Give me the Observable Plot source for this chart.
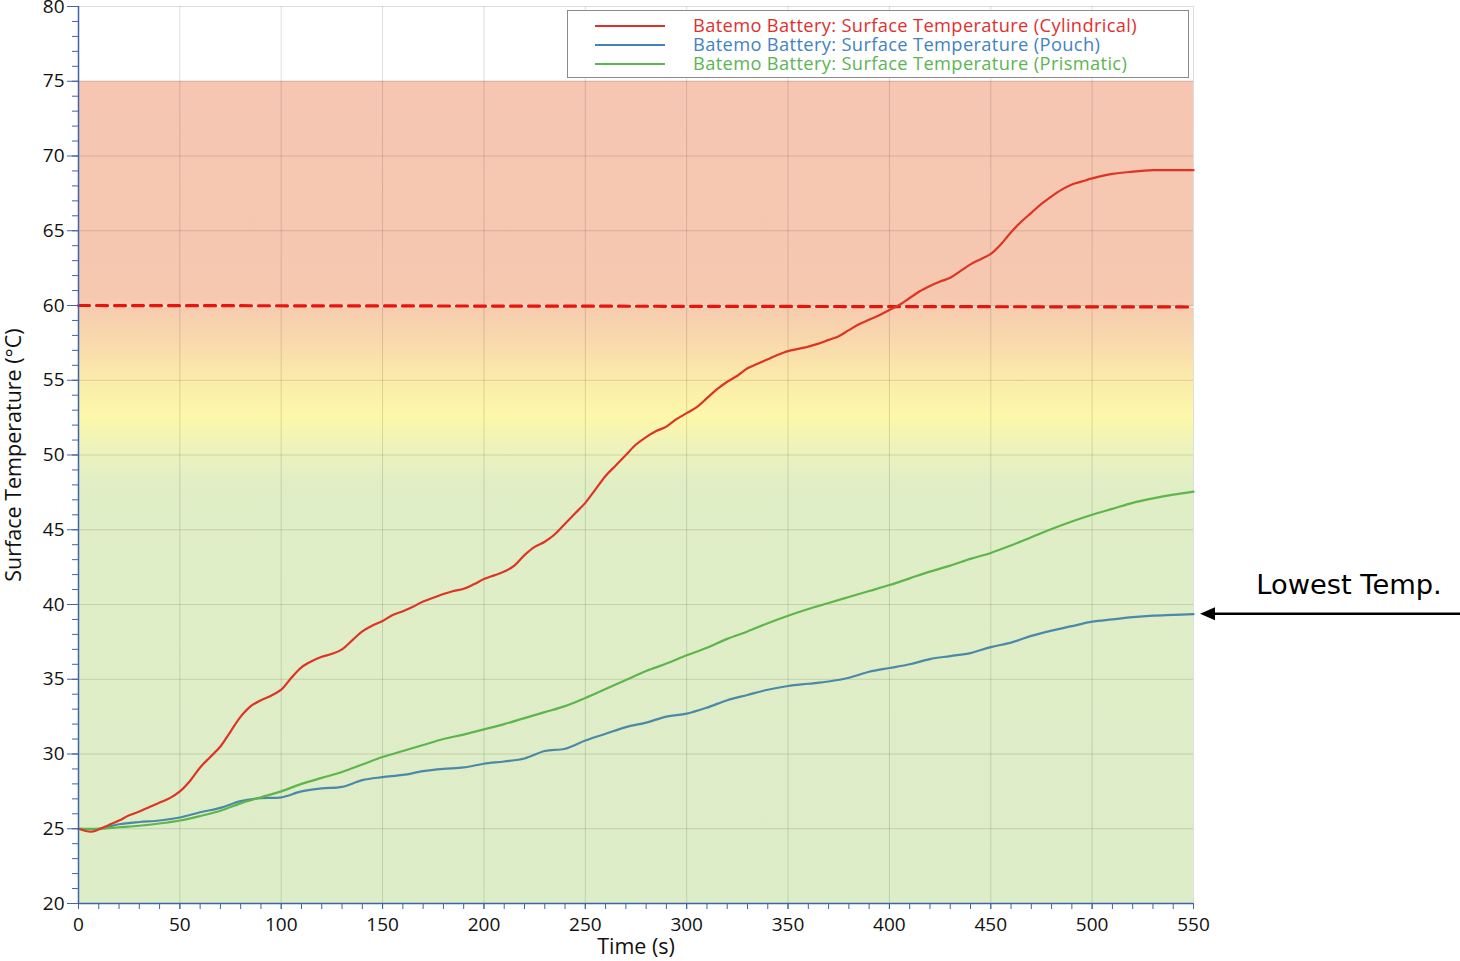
<!DOCTYPE html>
<html>
<head>
<meta charset="utf-8">
<script src="https://cdn.jsdelivr.net/npm/d3@7"></script>
<script src="https://cdn.jsdelivr.net/npm/@observablehq/plot@0.6"></script>
<style>
  html, body { margin: 0; padding: 0; background: #fff; }
  #chart { position: relative; width: 1460px; height: 961px; }
</style>
</head>
<body>
<div id="chart"></div>
<script>
// Surface temperature of three Batemo cell formats over a 550 s load profile.

const cylTime = [0,6,10,15,20,25,30,35,40,45,50,55,60,65,70,75,80,85,90,95,100,105,110,115,120,125,130,135,140,145,150,155,160,165,170,175,180,185,190,195,200,205,210,215,220,225,230,235,240,245,250,255,260,265,270,275,280,285,290,295,300,305,310,315,320,325,330,335,340,345,350,355,360,365,370,375,380,385,390,395,400,405,410,415,420,425,430,435,440,445,450,455,460,465,470,475,480,485,490,495,500,510,520,530,540,550];
const cylTemp = [25.0,24.8,24.95,25.25,25.55,25.9,26.15,26.45,26.75,27.05,27.5,28.2,29.1,29.8,30.5,31.5,32.5,33.2,33.6,33.9,34.3,35.1,35.8,36.2,36.5,36.7,37.0,37.6,38.2,38.6,38.9,39.3,39.55,39.85,40.2,40.45,40.7,40.9,41.05,41.35,41.7,41.95,42.2,42.6,43.3,43.85,44.2,44.7,45.4,46.1,46.8,47.7,48.6,49.3,50.0,50.7,51.2,51.6,51.9,52.4,52.8,53.2,53.8,54.4,54.9,55.3,55.8,56.1,56.4,56.7,56.95,57.1,57.25,57.45,57.7,57.95,58.35,58.75,59.05,59.35,59.7,60.05,60.5,60.95,61.3,61.6,61.85,62.3,62.75,63.1,63.45,64.1,64.9,65.6,66.2,66.8,67.3,67.75,68.1,68.3,68.5,68.8,68.95,69.05,69.05,69.05];

const gridTime = [0,10,20,30,40,50,60,70,80,90,100,110,120,130,140,150,160,170,180,190,200,210,220,230,240,250,260,270,280,290,300,310,320,330,340,350,360,370,380,390,400,410,420,430,440,450,460,470,480,490,500,510,520,530,540,550];
const pouchTemp = [25.0,25.0,25.3,25.45,25.55,25.75,26.1,26.4,26.85,27.05,27.1,27.5,27.7,27.8,28.25,28.45,28.6,28.85,29.0,29.1,29.35,29.5,29.7,30.2,30.35,30.9,31.35,31.8,32.1,32.5,32.7,33.1,33.6,33.95,34.3,34.55,34.7,34.85,35.1,35.5,35.75,36.0,36.35,36.55,36.75,37.15,37.45,37.9,38.25,38.55,38.85,39.0,39.15,39.25,39.3,39.35];
const prismTemp = [25.0,25.0,25.1,25.2,25.35,25.55,25.85,26.2,26.7,27.1,27.5,28.0,28.4,28.8,29.3,29.8,30.2,30.6,31.0,31.3,31.65,32.0,32.4,32.8,33.2,33.75,34.35,34.95,35.55,36.05,36.6,37.1,37.7,38.2,38.75,39.25,39.7,40.1,40.5,40.9,41.3,41.75,42.2,42.6,43.05,43.45,43.95,44.5,45.05,45.55,46.0,46.4,46.8,47.1,47.35,47.55];

// Temperature limit (dashed) and the shaded operating zone
const limitTime = [0, 550];
const limitTemp = [60, 59.9];
const zoneTemp = [20, 75];

const seriesNames = [
  "Batemo Battery: Surface Temperature (Cylindrical)",
  "Batemo Battery: Surface Temperature (Pouch)",
  "Batemo Battery: Surface Temperature (Prismatic)"
];
const seriesColors = ["#de3424", "#4a89a8", "#5db64c"];
const legendColors = ["#e0302e", "#4382c2", "#5cb552"];

const xTicks = d3.range(0, 551, 50);
const xMinor = d3.range(0, 551, 10);
const yTicks = d3.range(20, 81, 5);
const yMinor = d3.range(20, 81, 1);
const xLabel = "Time (s)";
const yLabel = "Surface Temperature (°C)";
const annotationText = "Lowest Temp.";

const cyl = cylTime.map((t, i) => ({t, v: cylTemp[i]}));
const pouch = gridTime.map((t, i) => ({t, v: pouchTemp[i]}));
const prism = gridTime.map((t, i) => ({t, v: prismTemp[i]}));
const limit = limitTime.map((t, i) => ({t, v: limitTemp[i]}));
const zone = [{x1: xTicks[0], x2: xTicks[xTicks.length - 1], y1: zoneTemp[0], y2: zoneTemp[1]}];

const axisBlue = "#3d64ac";
const font = "'Open Sans', 'Noto Sans', sans-serif";

const chart = Plot.plot({
  width: 1460,
  height: 961,
  marginLeft: 78,
  marginRight: 267,
  marginTop: 6,
  marginBottom: 58,
  x: {domain: [0, 550]},
  y: {domain: [20, 80]},
  style: {fontFamily: font, fontSize: "19px", background: "#fff", color: "#111", overflow: "visible"},
  marks: [
    Plot.rect(zone, {x1: "x1", x2: "x2", y1: "y1", y2: "y2", fill: "url(#zoneFill)"}),
    Plot.gridX({ticks: xTicks, stroke: "#000", strokeOpacity: 0.13, strokeWidth: 1}),
    Plot.gridY({ticks: yTicks, stroke: "#000", strokeOpacity: 0.13, strokeWidth: 1}),
    // limit line: pale underlay with red dashes on top
    Plot.line(limit, {x: "t", y: "v", stroke: "#fff", strokeOpacity: 0.55, strokeWidth: 2}),
    Plot.line(limit, {x: "t", y: "v", stroke: "#e8150f", strokeWidth: 3.2, strokeDasharray: "11,7"}),
    Plot.line(pouch, {x: "t", y: "v", stroke: seriesColors[1], strokeWidth: 2.2, curve: "catmull-rom"}),
    Plot.line(prism, {x: "t", y: "v", stroke: seriesColors[2], strokeWidth: 2.2, curve: "catmull-rom"}),
    Plot.line(cyl, {x: "t", y: "v", stroke: seriesColors[0], strokeWidth: 2.2, curve: "catmull-rom"}),
    // axes
    Plot.axisY({ticks: yMinor, tickSize: 6, stroke: axisBlue, text: null, label: null}),
    Plot.axisY({ticks: yTicks, tickSize: 11, tickPadding: 3, stroke: axisBlue, label: null, fontSize: 19}),
    Plot.axisX({ticks: xMinor, tickSize: 6, stroke: axisBlue, text: null, label: null}),
    Plot.axisX({ticks: xTicks, tickSize: 6, tickPadding: 8, stroke: axisBlue, label: null, fontSize: 19}),
    Plot.ruleX([0], {stroke: axisBlue, strokeWidth: 1.5}),
    Plot.ruleY([20], {stroke: axisBlue, strokeWidth: 1.5}),
    Plot.text([xLabel], {frameAnchor: "bottom", dy: 44, fontSize: 21.5, lineAnchor: "middle"}),
    Plot.text([yLabel], {frameAnchor: "left", textAnchor: "middle", rotate: -90, dx: -64, fontSize: 21.5})
  ]
});

document.getElementById("chart").appendChild(chart);

const svg = d3.select(chart);
const xs = chart.scale("x");
const ys = chart.scale("y");

// vertical gradient for the shaded zone (top = 75 °C, bottom = 20 °C)
const defs = svg.insert("defs", ":first-child");
const grad = defs.append("linearGradient")
  .attr("id", "zoneFill").attr("x1", 0).attr("y1", 0).attr("x2", 0).attr("y2", 1);
const stopAt = (temp) => (zoneTemp[1] - temp) / (zoneTemp[1] - zoneTemp[0]);
[
  [75, "#f6c6b2"], [60.5, "#f6c8b0"], [58, "#f8d6ad"], [55, "#fbebaa"],
  [52.5, "#fcf8aa"], [50.5, "#eef3bb"], [48, "#e0eec6"], [20, "#ddedc8"]
].forEach(([t, c]) => grad.append("stop").attr("offset", stopAt(t)).attr("stop-color", c));

// legend box in the upper right of the frame
const lg = svg.append("g").attr("font-family", font).attr("font-size", 18.3)
  .attr("letter-spacing", 0.35).attr("text-anchor", "start");
lg.append("rect").attr("x", 567.5).attr("y", 10.5).attr("width", 621).attr("height", 67)
  .attr("fill", "#fff").attr("stroke", "#8a8a8a");
seriesNames.forEach((name, i) => {
  const y = 26 + i * 19;
  lg.append("line").attr("x1", 595).attr("x2", 665).attr("y1", y).attr("y2", y)
    .attr("stroke", legendColors[i]).attr("stroke-width", 2);
  lg.append("text").attr("x", 693).attr("y", y + 6).attr("text-anchor", "start")
    .attr("fill", legendColors[i]).text(name);
});

// arrow pointing at the end of the lowest curve
const endT = gridTime[gridTime.length - 1];
const ay = ys.apply(pouchTemp[pouchTemp.length - 1]);
const tipX = xs.apply(endT) + 7;
const ann = svg.append("g");
ann.append("line").attr("x1", 1460).attr("x2", tipX + 12).attr("y1", ay).attr("y2", ay)
  .attr("stroke", "#000").attr("stroke-width", 2.5);
ann.append("path")
  .attr("d", `M${tipX},${ay} L${tipX + 15},${ay - 6.5} L${tipX + 15},${ay + 6.5} Z`)
  .attr("fill", "#000");
ann.append("text").attr("x", 1349).attr("y", ay - 20).attr("text-anchor", "middle")
  .attr("font-family", "'DejaVu Sans', Verdana, sans-serif").attr("font-size", 27.3)
  .attr("fill", "#000").text(annotationText);
</script>
</body>
</html>
